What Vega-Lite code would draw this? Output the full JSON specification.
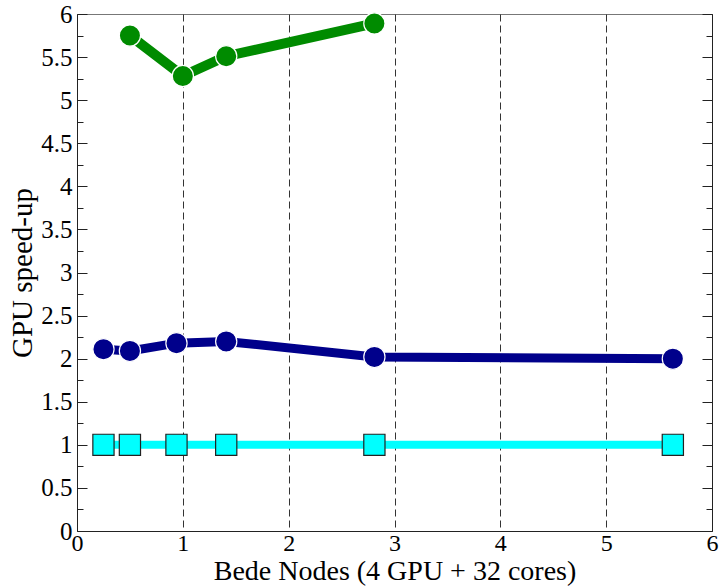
{
  "$schema": "https://vega.github.io/schema/vega-lite/v6.json",
  "autosize": {"type": "none"},
  "width": 635,
  "height": 517,
  "padding": {"left": 77, "top": 14, "right": 11, "bottom": 56},
  "background": "white",
  "config": {
    "view": {"stroke": "#777", "strokeWidth": 1},
    "font": "Liberation Serif",
    "axis": {"labelFont": "Liberation Serif", "titleFont": "Liberation Serif", "labelColor": "black", "titleColor": "black", "titleFontWeight": "normal", "domainColor": "#222", "tickColor": "#222"}
  },
  "data": {
    "values": [
      {"series": "A", "x": 0.5, "y": 5.75},
      {"series": "A", "x": 1.0, "y": 5.28},
      {"series": "A", "x": 1.41, "y": 5.51},
      {"series": "A", "x": 2.81, "y": 5.89},
      {"series": "B", "x": 0.25, "y": 2.11},
      {"series": "B", "x": 0.5, "y": 2.09},
      {"series": "B", "x": 0.94, "y": 2.18},
      {"series": "B", "x": 1.41, "y": 2.2},
      {"series": "B", "x": 2.81, "y": 2.02},
      {"series": "B", "x": 5.63, "y": 2.0},
      {"series": "C", "x": 0.25, "y": 1.0},
      {"series": "C", "x": 0.5, "y": 1.0},
      {"series": "C", "x": 0.94, "y": 1.0},
      {"series": "C", "x": 1.41, "y": 1.0},
      {"series": "C", "x": 2.81, "y": 1.0},
      {"series": "C", "x": 5.63, "y": 1.0}
    ]
  },
  "resolve": {"axis": {"x": "independent", "y": "independent"}},
  "layer": [
    {
      "mark": {"type": "line"},
      "encoding": {
        "x": {"field": "x", "type": "quantitative", "scale": {"domain": [0, 6], "nice": false, "zero": false},
          "axis": {"orient": "bottom", "values": [0, 1, 2, 3, 4, 5, 6], "format": "~g", "ticks": false, "labelFont": "Liberation Serif", "titleFont": "Liberation Serif", "labelFontSize": 24, "labelPadding": 0, "labelFlush": false, "title": "Bede Nodes (4 GPU + 32 cores)", "titleFontSize": 28, "titlePadding": 2, "grid": true, "gridDash": [7, 4], "gridColor": "#333", "gridWidth": 1, "domainColor": "#222"}},
        "y": {"field": "y", "type": "quantitative", "scale": {"domain": [0, 6], "nice": false, "zero": false},
          "axis": {"orient": "left", "values": [0, 0.5, 1, 1.5, 2, 2.5, 3, 3.5, 4, 4.5, 5, 5.5, 6], "format": "~g", "ticks": false, "labelFont": "Liberation Serif", "titleFont": "Liberation Serif", "labelFontSize": 25, "labelPadding": 5, "labelFlush": false, "title": "GPU speed-up", "titleFontSize": 29, "titlePadding": 3, "grid": false, "domainColor": "#222"}},
        "color": {"field": "series", "type": "nominal", "scale": {"domain": ["A", "B", "C"], "range": ["#008b00", "#00008b", "#00ffff"]}, "legend": null},
        "strokeWidth": {"field": "series", "type": "nominal", "scale": {"domain": ["A", "B", "C"], "range": [10, 8, 7]}, "legend": null},
        "order": {"field": "x"}
      }
    },
    {
      "mark": {"type": "point", "filled": true, "opacity": 1},
      "encoding": {
        "x": {"field": "x", "type": "quantitative", "axis": null},
        "y": {"field": "y", "type": "quantitative",
          "axis": {"orient": "left", "values": [0, 0.5, 1, 1.5, 2, 2.5, 3, 3.5, 4, 4.5, 5, 5.5, 6], "labels": false, "domain": false, "ticks": true, "tickSize": -10, "tickWidth": 1, "grid": false, "title": null}},
        "color": {"field": "series", "type": "nominal", "legend": null},
        "shape": {"field": "series", "type": "nominal", "scale": {"domain": ["A", "B", "C"], "range": ["circle", "circle", "square"]}, "legend": null},
        "size": {"field": "series", "type": "nominal", "scale": {"domain": ["A", "B", "C"], "range": [450, 450, 400]}, "legend": null},
        "stroke": {"field": "series", "type": "nominal", "scale": {"domain": ["A", "B", "C"], "range": ["white", "white", "#222"]}, "legend": null},
        "strokeWidth": {"value": 1.2}
      }
    },
    {
      "mark": {"type": "point", "opacity": 0},
      "encoding": {
        "x": {"field": "x", "type": "quantitative", "axis": null},
        "y": {"field": "y", "type": "quantitative",
          "axis": {"orient": "left", "values": [0.25, 0.75, 1.25, 1.75, 2.25, 2.75, 3.25, 3.75, 4.25, 4.75, 5.25, 5.75], "labels": false, "domain": false, "ticks": true, "tickSize": -6, "tickWidth": 1, "grid": false, "title": null}}
      }
    },
    {
      "mark": {"type": "point", "opacity": 0},
      "encoding": {
        "x": {"field": "x", "type": "quantitative", "axis": null},
        "y": {"field": "y", "type": "quantitative",
          "axis": {"orient": "right", "values": [0, 0.5, 1, 1.5, 2, 2.5, 3, 3.5, 4, 4.5, 5, 5.5, 6], "labels": false, "domain": true, "domainColor": "#222", "ticks": true, "tickSize": -10, "tickWidth": 1, "grid": false, "title": null}}
      }
    },
    {
      "mark": {"type": "point", "opacity": 0},
      "encoding": {
        "x": {"field": "x", "type": "quantitative", "axis": null},
        "y": {"field": "y", "type": "quantitative",
          "axis": {"orient": "right", "values": [0.25, 0.75, 1.25, 1.75, 2.25, 2.75, 3.25, 3.75, 4.25, 4.75, 5.25, 5.75], "labels": false, "domain": false, "ticks": true, "tickSize": -6, "tickWidth": 1, "grid": false, "title": null}}
      }
    }
  ]
}
